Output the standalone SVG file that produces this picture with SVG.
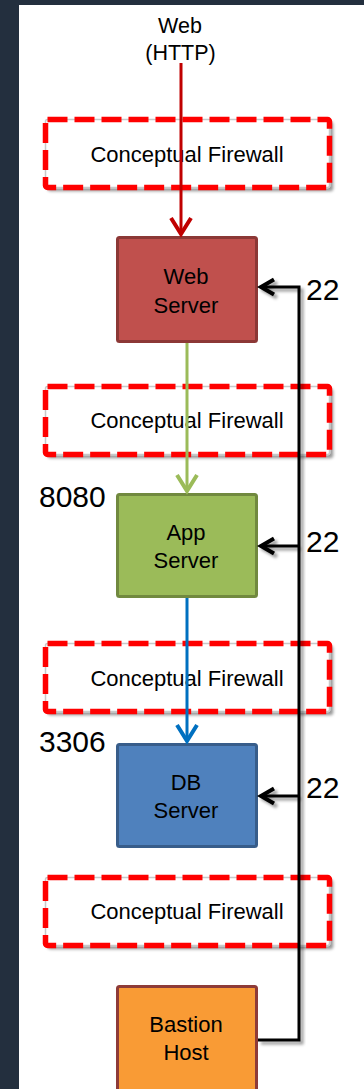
<svg xmlns="http://www.w3.org/2000/svg" width="364" height="1089" viewBox="0 0 364 1089">
<style>
text{font-family:"Liberation Sans",Arial,sans-serif;fill:#000;text-anchor:middle}
.fwt{font-size:22px}
.nt{font-size:22px}
.port{font-size:30px;text-anchor:start}
.fw{fill:#fff;stroke:#ff0000;stroke-width:5.5;stroke-dasharray:20 7}
.fwb{fill:#fff;stroke:#c8c8c8;stroke-width:1.5}
.conn{fill:none;stroke-width:3}
</style>
<defs>
<filter id="sh" x="-10%" y="-20%" width="125%" height="150%">
<feDropShadow dx="3" dy="3" stdDeviation="1.5" flood-color="#000" flood-opacity="0.4"/>
</filter>
<marker id="mr" markerUnits="userSpaceOnUse" viewBox="-20 -20 40 40" markerWidth="40" markerHeight="40" refX="0" refY="0" orient="auto" overflow="visible"><path d="M-16,-10 L0,0 L-16,10" fill="none" stroke="#c00000" stroke-width="4"/></marker>
<marker id="mg" markerUnits="userSpaceOnUse" viewBox="-20 -20 40 40" markerWidth="40" markerHeight="40" refX="0" refY="0" orient="auto" overflow="visible"><path d="M-16,-10 L0,0 L-16,10" fill="none" stroke="#9bbb59" stroke-width="4"/></marker>
<marker id="mb" markerUnits="userSpaceOnUse" viewBox="-20 -20 40 40" markerWidth="40" markerHeight="40" refX="0" refY="0" orient="auto" overflow="visible"><path d="M-16,-10 L0,0 L-16,10" fill="none" stroke="#0070c0" stroke-width="4"/></marker>
<marker id="mk" markerUnits="userSpaceOnUse" viewBox="-20 -20 40 40" markerWidth="40" markerHeight="40" refX="0" refY="0" orient="auto" overflow="visible"><path d="M-13,-7.5 L0,0 L-13,7.5" fill="none" stroke="#000" stroke-width="4"/></marker>
</defs>
<rect x="0" y="0" width="364" height="1089" fill="#fff"/>
<rect x="0" y="0" width="364" height="5" fill="#232f3e"/>
<rect x="0" y="0" width="19" height="1089" fill="#232f3e"/>

<g id="web-label">
<text class="nt" x="180" y="33" style="font-size:21.5px">Web</text>
<text class="nt" x="180.5" y="60" style="font-size:21.5px">(HTTP)</text>
</g>

<g id="firewall1">
<rect class="fwb" x="45.5" y="119.5" width="284" height="68" rx="2" filter="url(#sh)"/>
<rect class="fw" x="45.5" y="119.5" width="284" height="68" rx="2" fill="none" style="fill:none"/>
<text class="fwt" x="187" y="162">Conceptual Firewall</text>
</g>
<g id="firewall2">
<rect class="fwb" x="45.5" y="386.5" width="284" height="68" rx="2" filter="url(#sh)"/>
<rect class="fw" x="45.5" y="386.5" width="284" height="68" rx="2" style="fill:none"/>
<text class="fwt" x="187" y="428">Conceptual Firewall</text>
</g>
<g id="firewall3">
<rect class="fwb" x="45.5" y="643.5" width="284" height="68" rx="2" filter="url(#sh)"/>
<rect class="fw" x="45.5" y="643.5" width="284" height="68" rx="2" style="fill:none"/>
<text class="fwt" x="187" y="686">Conceptual Firewall</text>
</g>
<g id="firewall4">
<rect class="fwb" x="45.5" y="877.5" width="284" height="68" rx="2" filter="url(#sh)"/>
<rect class="fw" x="45.5" y="877.5" width="284" height="68" rx="2" style="fill:none"/>
<text class="fwt" x="187" y="919">Conceptual Firewall</text>
</g>

<g id="web-server">
<rect x="117.5" y="237.5" width="139" height="104" rx="2" fill="#c0504d" stroke="#8c3836" stroke-width="3"/>
<text class="nt" x="186" y="284">Web</text>
<text class="nt" x="186" y="313">Server</text>
</g>
<g id="app-server">
<rect x="117.5" y="494.5" width="139" height="102" rx="2" fill="#9bbb59" stroke="#71893f" stroke-width="3"/>
<text class="nt" x="186" y="540">App</text>
<text class="nt" x="186" y="568">Server</text>
</g>
<g id="db-server">
<rect x="117.5" y="744.5" width="139" height="102" rx="2" fill="#4f81bd" stroke="#385d8a" stroke-width="3"/>
<text class="nt" x="186" y="790">DB</text>
<text class="nt" x="186" y="818">Server</text>
</g>
<g id="bastion-host">
<rect x="117.5" y="986.5" width="139" height="112" rx="2" fill="#f99b35" stroke="#8e3b38" stroke-width="3"/>
<text class="nt" x="186" y="1032">Bastion</text>
<text class="nt" x="186" y="1060">Host</text>
</g>

<g id="connectors">
<line class="conn" x1="181" y1="63" x2="181" y2="234" stroke="#c00000" marker-end="url(#mr)"/>
<line class="conn" x1="187" y1="343" x2="187" y2="491" stroke="#9bbb59" marker-end="url(#mg)"/>
<line class="conn" x1="187" y1="598" x2="187" y2="741" stroke="#0070c0" marker-end="url(#mb)"/>
<g filter="url(#sh)">
<polyline class="conn" points="258,1040 299,1040 299,287 261,287" stroke="#000" stroke-width="4" marker-end="url(#mk)"/>
<line class="conn" x1="299" y1="546" x2="261" y2="546" stroke="#000" stroke-width="4" marker-end="url(#mk)"/>
<line class="conn" x1="299" y1="796" x2="261" y2="796" stroke="#000" stroke-width="4" marker-end="url(#mk)"/>
</g>
</g>

<g id="port-labels">
<text class="port" x="306" y="300">22</text>
<text class="port" x="306" y="552">22</text>
<text class="port" x="306" y="798">22</text>
<text class="port" x="39" y="507">8080</text>
<text class="port" x="39" y="752">3306</text>
</g>
</svg>
